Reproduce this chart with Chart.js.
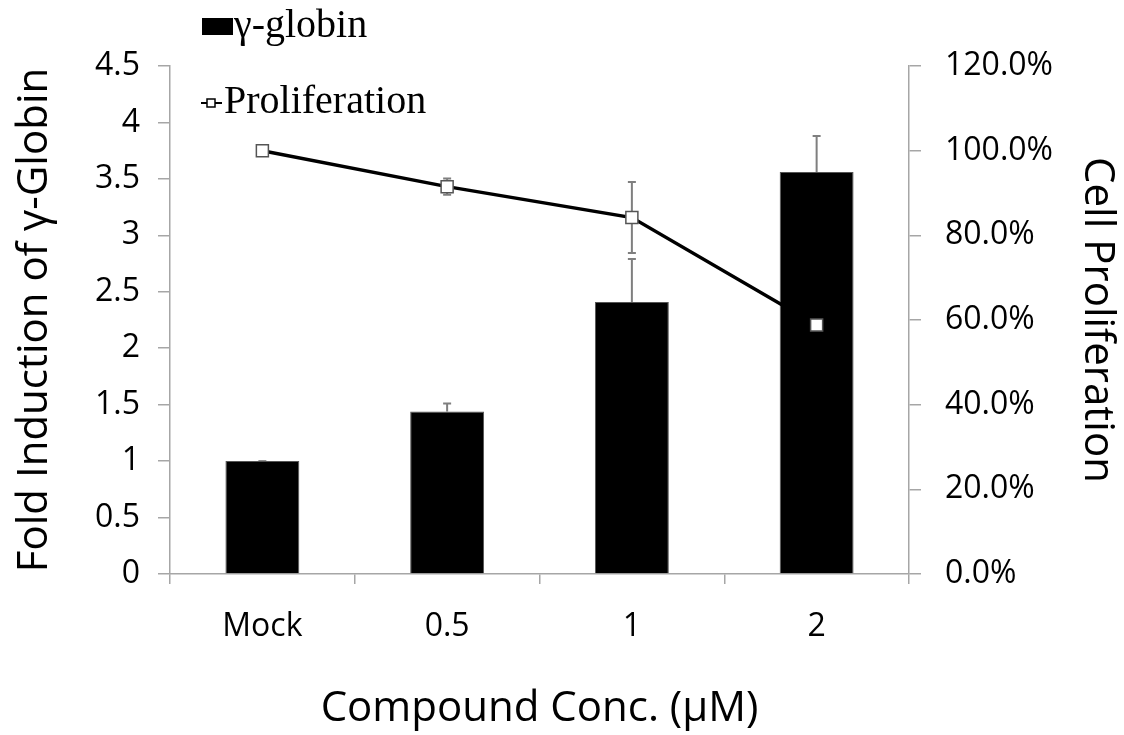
<!DOCTYPE html>
<html>
<head>
<meta charset="utf-8">
<script src="https://cdn.jsdelivr.net/npm/chart.js@4/dist/chart.umd.min.js"></script>
<style>
  html, body { margin: 0; padding: 0; background: #fff; }
  #wrap { width: 1124px; height: 735px; position: relative; }
</style>
</head>
<body>
<div id="wrap"><canvas id="chart"></canvas></div>
<script>
// values
const concLabels = ['Mock', '0.5', '1', '2'];
const globinFold = [1.0, 1.44, 2.41, 3.56];
const globinErr = [0, 0.07, 0.38, 0.32];
const prolifPct = [100, 91.5, 84.2, 58.8];
const prolifErr = [0, 1.9, 8.4, 0];

const axisGray = '#a6a6a6';
const tickFont = { family: 'Open Sans', size: 32 };
const titleFont = { family: 'Open Sans', size: 42 };

// error bars, drawn under the marks through the scales
const errorBars = {
  id: 'errorBars',
  beforeDatasetsDraw(chart) {
    const ctx = chart.ctx;
    ctx.save();
    ctx.strokeStyle = '#7f7f7f';
    ctx.lineWidth = 2;
    chart.data.datasets.forEach((ds, i) => {
      const meta = chart.getDatasetMeta(i);
      const yScale = chart.scales[ds.yAxisID];
      ds.errors.forEach((err, j) => {
        const x = meta.data[j].x;
        const v = ds.data[j];
        const yTop = yScale.getPixelForValue(v + err);
        const yBot = ds.type === 'bar' ? yScale.getPixelForValue(v) : yScale.getPixelForValue(v - err);
        if (ds.type !== 'bar' && err === 0) return;
        ctx.beginPath();
        ctx.moveTo(x, yBot); ctx.lineTo(x, yTop);
        ctx.moveTo(x - 4, yTop); ctx.lineTo(x + 4, yTop);
        if (ds.type !== 'bar') { ctx.moveTo(x - 4, yBot); ctx.lineTo(x + 4, yBot); }
        ctx.stroke();
      });
    });
    ctx.restore();
  }
};

// legend in the top-left corner, like the original
const cornerLegend = {
  id: 'cornerLegend',
  afterDraw(chart) {
    const ctx = chart.ctx;
    const bars = chart.data.datasets[1];
    const line = chart.data.datasets[0];
    ctx.save();
    ctx.font = '40px "Liberation Serif"';
    ctx.textBaseline = 'alphabetic';
    ctx.fillStyle = bars.backgroundColor;
    ctx.fillRect(202, 18, 31, 17);
    ctx.fillStyle = '#000';
    ctx.fillText(bars.label, 234, 37);

    ctx.strokeStyle = line.borderColor;
    ctx.lineWidth = 2;
    ctx.beginPath();
    ctx.moveTo(201, 103); ctx.lineTo(222, 103);
    ctx.stroke();
    ctx.fillStyle = '#fff';
    ctx.lineWidth = 1.5;
    ctx.fillRect(207, 99, 8, 8);
    ctx.strokeRect(207, 99, 8, 8);
    ctx.fillStyle = '#000';
    ctx.fillText(line.label, 224, 113);
    ctx.restore();
  }
};

new Chart(document.getElementById('chart'), {
  data: {
    labels: concLabels,
    datasets: [
      {
        type: 'line',
        label: 'Proliferation',
        data: prolifPct,
        errors: prolifErr,
        yAxisID: 'yRight',
        order: 0,
        borderColor: '#000',
        borderWidth: 3.5,
        tension: 0,
        pointStyle: 'rect',
        pointRadius: 8.5,
        pointBackgroundColor: '#fff',
        pointBorderColor: '#555',
        pointBorderWidth: 1.5
      },
      {
        type: 'bar',
        label: 'γ-globin',
        data: globinFold,
        errors: globinErr,
        yAxisID: 'yLeft',
        order: 1,
        backgroundColor: '#000',
        borderColor: '#555',
        borderWidth: 1,
        barPercentage: 0.4,
        categoryPercentage: 1
      }
    ]
  },
  options: {
    responsive: true,
    maintainAspectRatio: false,
    animation: false,
    layout: { padding: { top: 66, left: 0, right: 0, bottom: 0 } },
    plugins: {
      legend: { display: false },
      tooltip: { enabled: false }
    },
    scales: {
      x: {
        offset: true,
        grid: { offset: true, drawOnChartArea: false, drawTicks: true, tickLength: 10, color: axisGray, lineWidth: 1.5 },
        border: { color: axisGray, width: 1.5 },
        ticks: { font: tickFont, color: '#000', padding: 24 },
        title: { display: true, text: 'Compound Conc. (μM)', font: titleFont, color: '#000', padding: { top: 0, bottom: 1 } },
        afterFit(scale) { scale.height = 161; }
      },
      yLeft: {
        position: 'left',
        min: 0, max: 4.5,
        grid: { drawOnChartArea: false, drawTicks: true, tickLength: 12, color: axisGray, lineWidth: 1.5 },
        border: { color: axisGray, width: 1.5 },
        ticks: { stepSize: 0.5, font: tickFont, color: '#000', padding: 18, callback: v => String(v) },
        title: { display: true, text: 'Fold Induction of γ-Globin', font: titleFont, color: '#000', padding: { top: 10, bottom: 0 } },
        afterFit(scale) { scale.width = 170; }
      },
      yRight: {
        position: 'right',
        min: 0, max: 120,
        grid: { drawOnChartArea: false, drawTicks: true, tickLength: 12, color: axisGray, lineWidth: 1.5 },
        border: { color: axisGray, width: 1.5 },
        ticks: { stepSize: 20, font: tickFont, color: '#000', padding: 24, callback: v => v.toFixed(1) + '%' },
        title: { display: true, text: 'Cell Proliferation', font: titleFont, color: '#000', padding: { top: 2, bottom: 0 } },
        afterFit(scale) { scale.width = 215; }
      }
    }
  },
  plugins: [errorBars, cornerLegend]
});
</script>
</body>
</html>
